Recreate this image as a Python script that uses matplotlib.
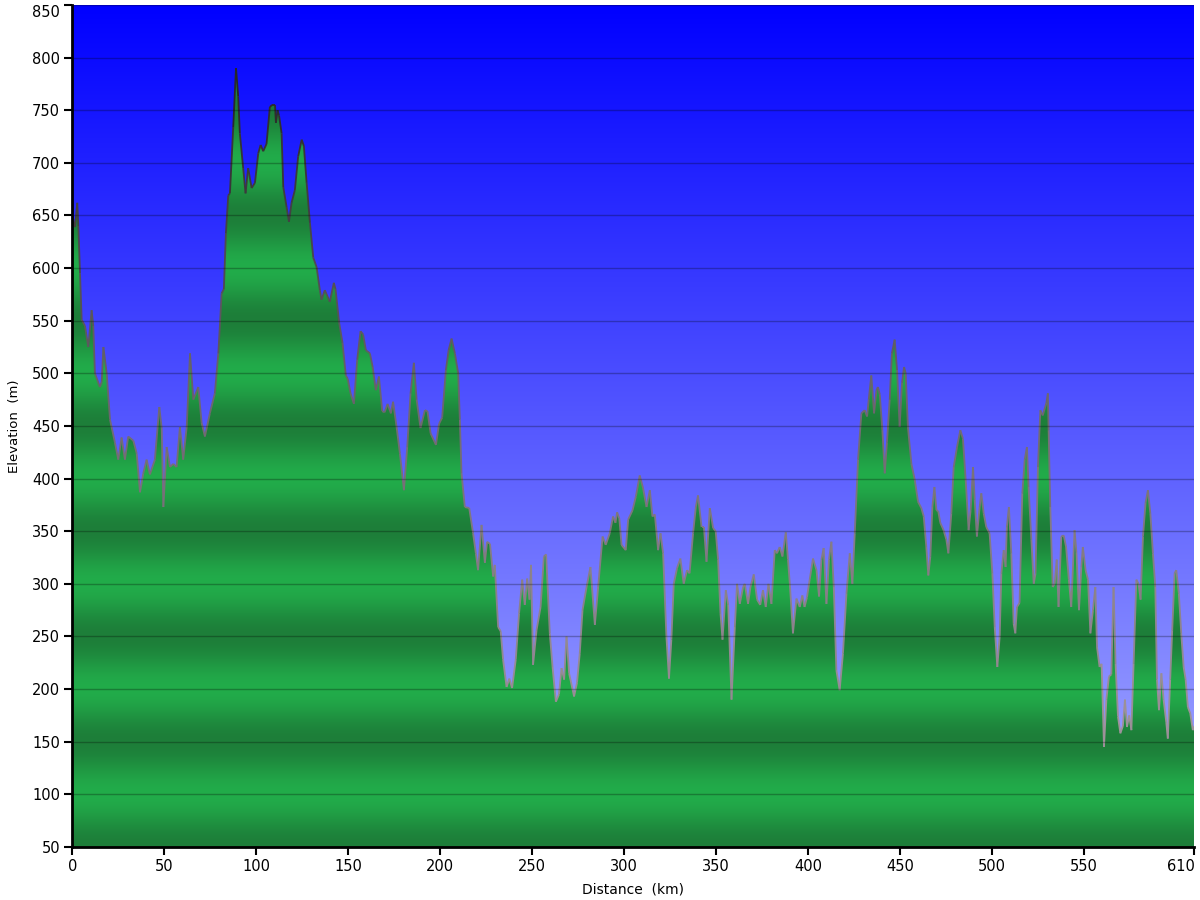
import numpy as np
import matplotlib
matplotlib.use("Agg")
import matplotlib.pyplot as plt
from matplotlib import rcParams
from matplotlib.patches import Polygon
from matplotlib.collections import LineCollection
from matplotlib.colors import LinearSegmentedColormap

# distance along the route (km) and elevation (m)
dist_km = [
    0, 1.4, 2.6, 3.2, 4.1, 5.0, 6.8, 8.6, 10.4, 11.3, 12.2, 14.9, 15.9, 16.8, 18.6,
    20.4, 23.1, 24.9, 26.7, 28.5, 30.3, 33.1, 34.9, 36.7, 38.5, 40.3, 42.1, 44.8,
    47.2, 48.5, 49.4, 51.2, 53.0, 54.8, 56.6, 58.4, 60.2, 62.1, 63.9, 65.7, 68.4,
    70.2, 72.0, 74.7, 77.4, 79.3, 81.1, 82.3, 83.4, 84.7, 85.6, 87.4, 88.9, 90.1,
    91.0, 92.8, 94.1, 95.5, 97.4, 99.2, 101.0, 102.3, 103.7, 105.5, 107.3, 108.5,
    110.1, 110.6, 111.5, 112.3, 113.7, 114.6, 116.4, 117.7, 119.1, 120.9, 122.7,
    124.6, 125.8, 127.3, 129.1, 130.9, 132.7, 134.5, 135.4, 137.2, 139.9, 142.1,
    143.0, 145.0, 146.8, 148.6, 149.6, 151.2, 153.0, 154.8, 156.6, 158.0, 159.5,
    161.7, 163.2, 164.9, 166.6, 168.4, 169.7, 171.3, 173.1, 174.3, 176.2, 178.0,
    180.2, 182.0, 183.8, 185.6, 187.1, 189.2, 191.6, 193.0, 194.7, 197.6, 199.3,
    201.0, 203.0, 204.5, 206.1, 207.9, 209.7, 210.6, 211.5, 213.3, 215.7, 217.8,
    219.3, 220.5, 222.4, 224.2, 225.4, 227.0, 228.7, 229.6, 231.4, 232.8, 234.1,
    236.0, 237.5, 239.0, 241.0, 242.8, 244.5, 245.9, 247.2, 248.5, 249.3, 250.4,
    252.3, 254.5, 256.3, 257.5, 259.5, 261.0, 262.8, 264.5, 265.9, 267.3, 268.6,
    270.0, 272.7, 274.3, 275.8, 277.3, 279.5, 281.6, 284.0, 285.8, 288.2, 289.9,
    292.1, 293.9, 295.2, 296.1, 297.3, 298.5, 300.8, 302.1, 304.5, 306.3, 308.4,
    310.2, 312.1, 313.9, 315.3, 316.6, 318.4, 319.7, 321.1, 322.9, 324.3, 325.6,
    326.9, 328.7, 330.5, 332.3, 334.1, 335.5, 337.4, 338.9, 340.1, 342.0, 343.3,
    344.7, 346.5, 348.3, 349.7, 351.0, 352.3, 353.4, 355.2, 356.5, 358.3, 360.1,
    361.3, 362.8, 364.6, 365.5, 367.3, 368.6, 370.4, 372.2, 373.9, 375.4, 376.9,
    378.4, 380.0, 381.8, 383.0, 384.5, 386.0, 387.8, 389.0, 390.0, 391.7, 393.6,
    395.4, 396.8, 398.0, 399.3, 400.8, 402.6, 404.5, 405.9, 407.2, 408.4, 409.9,
    411.3, 412.6, 413.9, 415.3, 417.1, 418.9, 420.8, 422.6, 424.0, 425.3, 427.1,
    428.9, 430.7, 432.0, 432.9, 434.3, 435.8, 437.1, 437.9, 438.9, 440.3, 441.6,
    442.8, 444.3, 445.5, 447.0, 448.3, 449.7, 451.0, 452.1, 453.0, 454.2, 456.1,
    457.9, 459.7, 461.5, 462.8, 464.2, 465.3, 466.4, 467.5, 468.6, 469.7, 470.7,
    471.8, 473.6, 475.1, 476.2, 477.8, 479.1, 480.9, 482.7, 484.1, 485.6, 487.2,
    488.3, 489.6, 490.5, 491.7, 493.2, 494.1, 495.4, 496.8, 498.6, 500.1, 501.4,
    502.8, 504.1, 505.0, 506.3, 507.3, 508.0, 509.1, 510.4, 511.7, 512.6, 513.5,
    514.9, 516.4, 517.7, 518.9, 519.8, 521.3, 522.6, 523.6, 524.9, 526.2, 527.5,
    529.5, 530.3, 530.7, 531.6, 532.9, 534.0, 535.1, 536.1, 537.6, 538.9, 540.2,
    541.7, 543.0, 544.8, 545.8, 547.2, 548.5, 549.3, 550.8, 552.1, 553.4, 554.8,
    556.1, 557.0, 558.4, 559.5, 560.8, 562.1, 563.5, 564.8, 566.0, 567.1, 568.4,
    569.7, 571.1, 572.2, 573.3, 574.5, 575.7, 576.9, 578.4, 579.6, 580.7, 582.0,
    583.4, 584.7, 586.0, 587.4, 588.7, 589.6, 590.7, 592.0, 593.2, 594.7, 595.5,
    596.8, 597.9, 599.2, 600.1, 601.5, 602.8, 604.1, 605.2, 606.4, 607.7, 609.1,
    610.0,
]
elev_m = [
    650, 639, 662, 640, 595, 551, 545, 525, 560, 545, 500, 487, 492, 525, 500,
    456, 434, 418, 439, 418, 440, 436, 424, 387, 405, 418, 404, 418,
    468, 448, 373, 430, 411, 414, 411, 449, 418, 449, 519, 475, 487,
    453, 440, 462, 481, 519, 576, 580, 633, 669, 671, 734, 790, 763,
    728, 695, 671, 695, 676, 681, 709, 717, 711, 718, 753, 755,
    755, 738, 750, 745, 728, 677, 658, 644, 662, 674, 706,
    722, 716, 681, 643, 610, 601, 579, 570, 579, 568, 586,
    580, 548, 529, 498, 495, 481, 471, 513, 540, 537, 522,
    519, 506, 484, 497, 464, 463, 471, 462, 473, 449, 424,
    389, 430, 481, 510, 475, 448, 465, 464, 443, 432, 452,
    458, 503, 522, 533, 519, 500, 456, 405, 373, 372, 348,
    329, 313, 356, 320, 340, 338, 307, 318, 259, 255, 228,
    202, 210, 201, 228, 272, 304, 280, 305, 285, 318, 223,
    256, 278, 326, 328, 253, 221, 188, 195, 220, 209, 250,
    215, 193, 206, 234, 275, 297, 316, 261, 297, 345, 337,
    348, 364, 358, 368, 362, 337, 332, 361, 370, 383, 403,
    391, 373, 389, 364, 366, 332, 348, 329, 250, 210, 247,
    300, 315, 324, 300, 313, 310, 348, 373, 384, 354, 354,
    321, 372, 353, 350, 323, 272, 247, 294, 280, 190, 259,
    300, 281, 297, 300, 281, 297, 309, 285, 280, 294, 278,
    300, 281, 332, 329, 335, 326, 349, 323, 300, 253, 286,
    278, 289, 278, 287, 304, 324, 313, 288, 323, 334, 281,
    323, 340, 297, 218, 199, 234, 291, 329, 300, 348, 418,
    462, 465, 459, 475, 498, 462, 484, 487, 480, 446, 405,
    434, 475, 519, 532, 503, 449, 491, 506, 500, 449, 414,
    399, 378, 372, 364, 335, 308, 326, 373, 392, 370, 369,
    358, 351, 342, 329, 367, 411, 430, 446, 438, 399, 351,
    370, 411, 380, 345, 373, 386, 367, 354, 348, 310, 259,
    221, 250, 310, 332, 316, 354, 373, 329, 262, 253, 278,
    282, 386, 418, 430, 392, 342, 300, 310, 411, 465, 460,
    472, 481, 446, 373, 297, 300, 323, 278, 345, 346, 335,
    304, 278, 351, 330, 275, 316, 335, 313, 304, 253, 275,
    297, 240, 221, 224, 145, 190, 212, 214, 297, 224, 174,
    158, 165, 190, 164, 175, 161, 224, 304, 300, 285, 345,
    377, 389, 367, 329, 297, 209, 180, 215, 190, 168, 153,
    209, 256, 310, 313, 291, 253, 221, 209, 183, 177, 161,
    165,
]

x_ticks = [0, 50, 100, 150, 200, 250, 300, 350, 400, 450, 500, 550, 610]
y_ticks = list(range(50, 851, 50))

rcParams['font.family'] = 'DejaVu Sans'
rcParams['axes.spines.top'] = False
rcParams['axes.spines.right'] = False

fig = plt.figure(figsize=(12, 9), dpi=100)
ax = fig.add_axes([0.0604, 0.0589, 0.9350, 0.9356])
ax.set_xlim(0, 610)
ax.set_ylim(50, 850)

# sky: blue gradient, lighter toward the bottom
yy = np.linspace(50, 850, 801)
frac = (850 - yy) / 800.0
sky = np.zeros((len(yy), 2, 3))
sky[:, :, 0] = (frac * 170 / 255.0)[:, None]
sky[:, :, 1] = (frac * 176 / 255.0)[:, None]
sky[:, :, 2] = 1.0
ax.imshow(sky, origin='lower', extent=[0, 610, 50, 850], aspect='auto',
          interpolation='bilinear', zorder=0)

# ground: banded green, dark at every odd 50 m
light = np.array([34, 172, 74]) / 255.0
dark = np.array([29, 126, 57]) / 255.0
w = 0.5 + 0.5 * np.cos(2 * np.pi * (yy - 100) / 100.0)
ground = np.zeros((len(yy), 2, 3))
for c in range(3):
    ground[:, :, c] = (dark[c] + (light[c] - dark[c]) * w)[:, None]
im = ax.imshow(ground, origin='lower', extent=[0, 610, 50, 850], aspect='auto',
               interpolation='bilinear', zorder=1)
verts = list(zip(dist_km, elev_m)) + [(610, 50), (0, 50)]
clip = Polygon(verts, closed=True, facecolor='none', edgecolor='none')
ax.add_patch(clip)
im.set_clip_path(clip)

# outline, darker at altitude
pts = np.column_stack([dist_km, elev_m])
segs = np.stack([pts[:-1], pts[1:]], axis=1)
mid = (pts[:-1, 1] + pts[1:, 1]) / 2.0
cmap = LinearSegmentedColormap.from_list('edge', ['#a0949c', '#6e6870', '#262626'])
lc = LineCollection(segs, cmap=cmap, linewidths=1.3, zorder=2)
lc.set_array(mid)
lc.set_clim(150, 780)
ax.add_collection(lc)

for y in y_ticks:
    ax.axhline(y, color='black', alpha=0.27, lw=1, zorder=3)

ax.spines['left'].set_linewidth(2)
ax.spines['bottom'].set_linewidth(2)
ax.spines['left'].set_zorder(4)
ax.spines['bottom'].set_zorder(4)
ax.set_xticks(x_ticks)
ax.set_yticks(y_ticks)
ax.tick_params(direction='out', length=6, width=1.5, labelsize=10.5, pad=3)
# end labels are nudged inside the figure, as in the original
ax.get_xticklabels()[-1].set_horizontalalignment('right')
ax.get_yticklabels()[-1].set_verticalalignment('top')

ax.set_xlabel('Distance  (km)', fontsize=10, labelpad=6)
ax.set_ylabel('Elevation  (m)', fontsize=9.5, labelpad=8)

fig.savefig('out.png', dpi=100)
plt.close(fig)
